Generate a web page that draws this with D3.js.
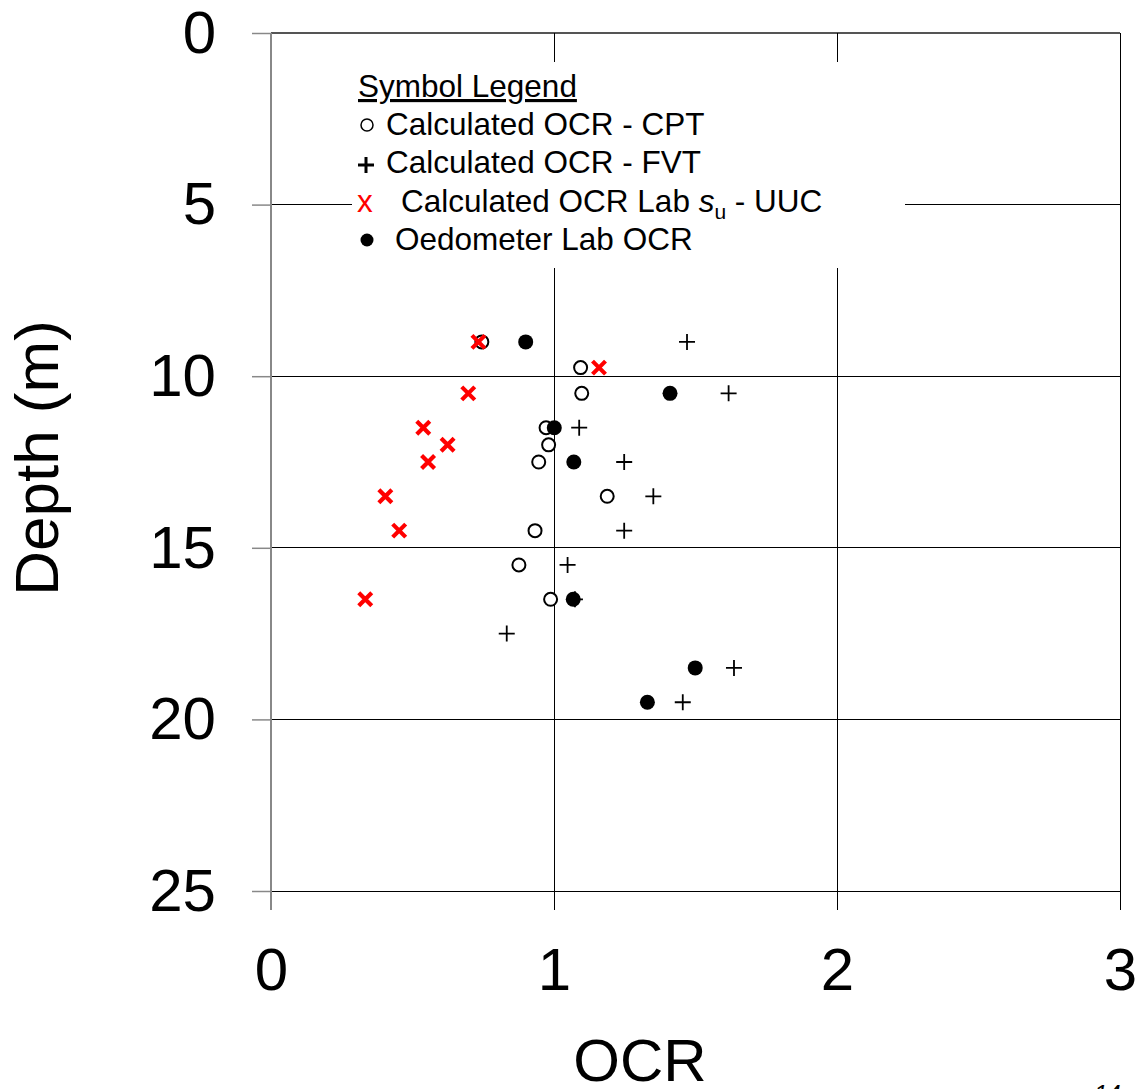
<!DOCTYPE html>
<html>
<head>
<meta charset="utf-8">
<script src="https://cdn.jsdelivr.net/npm/d3@7"></script>
<style>
  html, body { margin: 0; padding: 0; background: #fff; }
  svg { display: block; font-family: "Liberation Sans", Arial, sans-serif; }
</style>
</head>
<body>
<svg id="chart" width="1145" height="1089"></svg>
<script>
// OCR profile with depth: four sources of overconsolidation ratio
const xTicks = [0, 1, 2, 3];
const yTicks = [0, 5, 10, 15, 20, 25];

// Calculated OCR from CPT
const cptDepth = [9.0, 9.75, 10.5, 11.5, 12.0, 12.5, 13.5, 14.5, 15.5, 16.5];
const cptOCR   = [0.745, 1.094, 1.098, 0.972, 0.981, 0.946, 1.188, 0.933, 0.876, 0.988];

// Calculated OCR from field vane tests
const fvtDepth = [9.0, 10.5, 11.5, 12.5, 13.5, 14.5, 15.5, 16.5, 17.5, 18.5, 19.5];
const fvtOCR   = [1.470, 1.617, 1.089, 1.248, 1.351, 1.248, 1.048, 1.074, 0.833, 1.636, 1.455];

// Oedometer lab OCR
const oedDepth = [9.0, 10.5, 11.5, 12.5, 16.5, 18.5, 19.5];
const oedOCR   = [0.900, 1.410, 1.001, 1.070, 1.068, 1.499, 1.330];

// Calculated OCR from lab su (UUC)
const uucDepth = [9.0, 9.75, 10.5, 11.5, 12.0, 12.5, 13.5, 14.5, 16.5];
const uucOCR   = [0.733, 1.159, 0.697, 0.538, 0.624, 0.555, 0.404, 0.453, 0.333];

const svg = d3.select("#chart");

const x = d3.scaleLinear().domain([0, 3]).range([271, 1120]);
const y = d3.scaleLinear().domain([0, 25]).range([33, 891]);

// grid: horizontal lines across the plot
const grid = svg.append("g");
grid.selectAll("line.h").data(yTicks).join("line")
  .attr("class", "h")
  .attr("x1", x(0)).attr("x2", x(3))
  .attr("y1", d => y(d)).attr("y2", d => y(d))
  .attr("stroke", d => d === 0 ? "#555" : "#000")
  .attr("stroke-width", d => d === 0 ? 1.5 : 1)
  .attr("shape-rendering", "crispEdges");

// vertical lines, running down past the bottom as tick marks
grid.selectAll("line.v").data(xTicks.filter(d => d > 0)).join("line")
  .attr("class", "v")
  .attr("x1", d => x(d)).attr("x2", d => x(d))
  .attr("y1", y(0)).attr("y2", y(25) + 19)
  .attr("stroke", "#000").attr("stroke-width", 1)
  .attr("shape-rendering", "crispEdges");

// left axis with outward ticks
const yAxis = d3.axisLeft(y).tickValues(yTicks).tickSize(19).tickFormat(d3.format("d")).tickPadding(36);
const ga = svg.append("g").attr("transform", `translate(${x(0)},0)`).call(yAxis);
ga.select(".domain").remove();
ga.selectAll(".tick line").attr("stroke", "#888").attr("stroke-width", 1.5);
ga.selectAll(".tick text")
  .attr("font-size", 60).attr("fill", "#000")
  .attr("font-family", "Liberation Sans, Arial, sans-serif");
svg.append("line")
  .attr("x1", x(0)).attr("x2", x(0))
  .attr("y1", y(0)).attr("y2", y(25) + 19)
  .attr("stroke", "#888").attr("stroke-width", 2);

// bottom tick labels
const xAxis = d3.axisBottom(x).tickValues(xTicks).tickSize(0).tickFormat(d3.format("d")).tickPadding(0);
const gx = svg.append("g").attr("transform", `translate(0,${y(25)})`).call(xAxis);
gx.select(".domain").remove();
gx.selectAll(".tick text")
  .attr("font-size", 60).attr("fill", "#000")
  .attr("dy", null).attr("y", 99)
  .attr("font-family", "Liberation Sans, Arial, sans-serif");

// axis titles
svg.append("text")
  .attr("transform", "translate(58,458) rotate(-90)")
  .attr("text-anchor", "middle")
  .attr("font-size", 62)
  .text("Depth (m)");
svg.append("text")
  .attr("x", 640).attr("y", 1081)
  .attr("text-anchor", "middle")
  .attr("font-size", 60)
  .text("OCR");

// legend block
const lg = svg.append("g");
lg.append("rect").attr("x", 352).attr("y", 62).attr("width", 553).attr("height", 206).attr("fill", "#fff");
lg.append("text").attr("x", 358).attr("y", 97).attr("font-size", 31.5)
  .attr("text-decoration", "underline").text("Symbol Legend");

lg.append("circle").attr("cx", 367).attr("cy", 125).attr("r", 6)
  .attr("fill", "none").attr("stroke", "#000").attr("stroke-width", 1.5);
lg.append("text").attr("x", 386).attr("y", 135).attr("font-size", 31.5).text("Calculated OCR - CPT");

lg.append("path").attr("d", "M358,165H374M366,157V173").attr("stroke", "#000").attr("stroke-width", 3);
lg.append("text").attr("x", 386).attr("y", 173).attr("font-size", 31.5).text("Calculated OCR - FVT");

lg.append("text").attr("x", 357).attr("y", 212).attr("font-size", 31.5).attr("fill", "#f00").text("x");
const uucLabel = lg.append("text").attr("x", 401).attr("y", 212).attr("font-size", 31.5);
uucLabel.append("tspan").text("Calculated OCR Lab ");
uucLabel.append("tspan").attr("font-style", "italic").text("s");
uucLabel.append("tspan").attr("font-size", 21).attr("dy", 7).text("u");
uucLabel.append("tspan").attr("dy", -7).text(" - UUC");

lg.append("circle").attr("cx", 367).attr("cy", 240).attr("r", 6.5).attr("fill", "#000");
lg.append("text").attr("x", 395).attr("y", 250).attr("font-size", 31.5).text("Oedometer Lab OCR");

// data marks
const marks = svg.append("g");

marks.selectAll("path.fvt").data(d3.zip(fvtOCR, fvtDepth)).join("path")
  .attr("class", "fvt")
  .attr("d", "M-8,0H8M0,-8V8")
  .attr("transform", d => `translate(${x(d[0])},${y(d[1])})`)
  .attr("stroke", "#000").attr("stroke-width", 1.8).attr("fill", "none");

marks.selectAll("circle.cpt").data(d3.zip(cptOCR, cptDepth)).join("circle")
  .attr("class", "cpt")
  .attr("cx", d => x(d[0])).attr("cy", d => y(d[1])).attr("r", 6.5)
  .attr("fill", "#fff").attr("stroke", "#000").attr("stroke-width", 2);

marks.selectAll("circle.oed").data(d3.zip(oedOCR, oedDepth)).join("circle")
  .attr("class", "oed")
  .attr("cx", d => x(d[0])).attr("cy", d => y(d[1])).attr("r", 7.5)
  .attr("fill", "#000");

marks.selectAll("path.uuc").data(d3.zip(uucOCR, uucDepth)).join("path")
  .attr("class", "uuc")
  .attr("d", "M-6.5,-6.5L6.5,6.5M-6.5,6.5L6.5,-6.5")
  .attr("transform", d => `translate(${x(d[0])},${y(d[1])})`)
  .attr("stroke", "#f00").attr("stroke-width", 4.2).attr("fill", "none");

// page number at the bottom edge
svg.append("text").attr("x", 1094).attr("y", 1102).attr("font-size", 24).attr("font-style", "italic").text("14");
</script>
</body>
</html>
